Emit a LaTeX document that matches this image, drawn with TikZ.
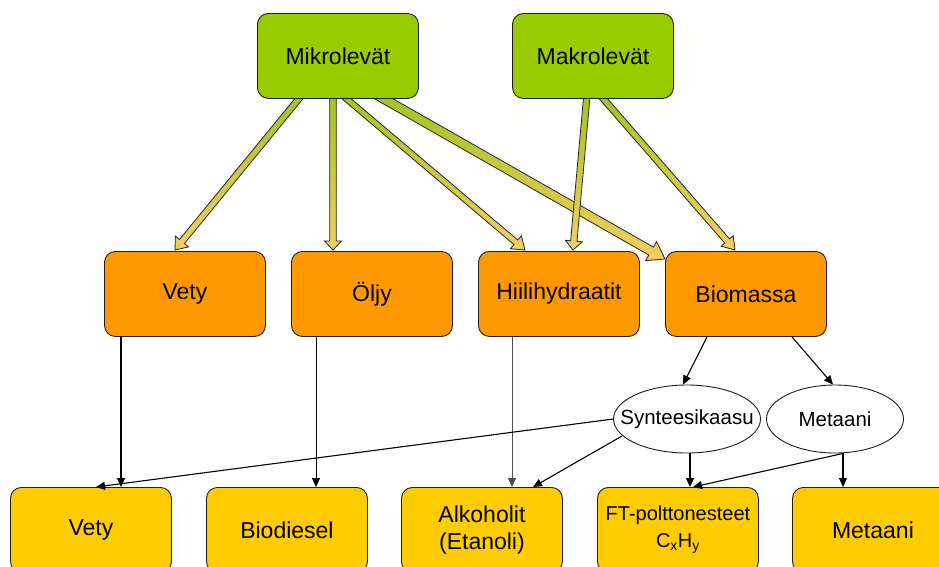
\documentclass[tikz,border=0pt]{standalone}
\usepackage{fontspec}
\setmainfont{Liberation Sans}
\usetikzlibrary{calc,shapes.geometric,arrows.meta,backgrounds}
\definecolor{grn}{RGB}{153,204,0}
\definecolor{org}{RGB}{255,153,0}
\definecolor{ylw}{RGB}{255,204,0}
\definecolor{arrtop}{RGB}{160,196,36}
\definecolor{arrbot}{RGB}{243,206,98}
\definecolor{edge}{RGB}{30,30,30}
\tikzset{
 box/.style={draw=edge, line width=0.9pt, rounded corners=11pt, minimum width=161pt, minimum height=85pt, anchor=north west, inner sep=0pt, align=center, font=\fontsize{23}{27}\selectfont},
 topbox/.style={box, fill=grn},
 midbox/.style={box, fill=org},
 botbox/.style={box, fill=ylw},
 gas/.style={draw=edge, line width=0.9pt, ellipse, fill=white, inner sep=0pt, minimum height=68pt, font=\fontsize{20.5}{24}\selectfont},
 thinarr/.style={draw=black, line width=1.1pt, -{Triangle[length=9pt,width=8pt]}},
 blk/.style={draw=black!85, line width=0.8pt, top color=arrtop, bottom color=arrbot, line join=miter},
}
\newcommand{\blkarrow}[5]{%
 \coordinate (ba-s) at #1;
 \coordinate (ba-e) at #2;
 \coordinate (ba-b) at ($(ba-e)!#5!(ba-s)$);
 \path[blk] ($(ba-s)!#3!90:(ba-e)$) -- ($(ba-b)!#3!90:(ba-e)$) -- ($(ba-b)!#4!90:(ba-e)$) -- (ba-e) -- ($(ba-b)!#4!-90:(ba-e)$) -- ($(ba-b)!#3!-90:(ba-e)$) -- ($(ba-s)!#3!-90:(ba-e)$) -- cycle;
}
\begin{document}
\begin{tikzpicture}[x=1pt,y=-1pt]
\useasboundingbox (0,0) rectangle (939,566);
% top
\node[topbox] (mikro) at (257,13) {Mikrolevät};
\node[topbox] (makro) at (512,13) {Makrolevät};
% middle
\node[midbox] (vety) at (104,251) {Vety};
\node[midbox] (olj) at (291,251) {Öljy};
\node[midbox] (hiili) at (478,251) {Hiilihydraatit};
\node[midbox] (bio) at (665,251) {Biomassa};
% ellipses
\node[gas, minimum width=147pt] (syn) at (687,419) {\makebox[0pt]{Synteesikaasu}};
\node[gas, minimum width=137pt] (met) at (835,419) {\makebox[0pt]{Metaani}};
% bottom
\node[botbox] (vetyb) at (10,487) {Vety};
\node[botbox] (dies) at (206,487) {Biodiesel};
\node[botbox] (alko) at (401,487) {Alkoholit\\(Etanoli)};
\node[botbox, font=\fontsize{20}{27}\selectfont] (ft) at (597,487) {FT-polttonesteet\\C\textsubscript{x}H\textsubscript{y}};
\node[botbox] (metb) at (792,487) {Metaani};
% block arrows
\begin{pgfonlayer}{background}
\blkarrow{($(mikro.south west)+(45,-4)$)}{($(vety.north west)+(71,-1)$)}{3.2pt}{8.5pt}{11pt}
\blkarrow{($(mikro.south west)+(76,-4)$)}{($(olj.north west)+(42,-1)$)}{3.3pt}{8.5pt}{9pt}
\blkarrow{($(mikro.south west)+(85,-4)$)}{($(hiili.north west)+(47,-1)$)}{3pt}{8.5pt}{12pt}
\blkarrow{($(mikro.south west)+(120,-4)$)}{($(bio.north west)+(0,8)$)}{4.6pt}{11pt}{16pt}
\blkarrow{($(makro.south west)+(75,-4)$)}{($(hiili.north west)+(95,-1)$)}{3.2pt}{8.5pt}{9pt}
\blkarrow{($(makro.south west)+(88,-4)$)}{($(bio.north west)+(70,-1)$)}{3.2pt}{8pt}{12pt}
\end{pgfonlayer}
% thin arrows
\draw[thinarr] ($(vety.south west)+(17,0)$) -- ($(vetyb.north west)+(111,0)$);
\draw[thinarr, line width=0.8pt] ($(olj.south west)+(25,0)$) -- ($(dies.north west)+(110,0)$);
\draw[thinarr, draw=black!70, line width=1pt] ($(hiili.south west)+(34,0)$) -- ($(alko.north west)+(111,0)$);
\draw[thinarr] ($(bio.south west)+(42,0)$) -- ($(syn.north)+(-4,0)$);
\draw[thinarr] ($(bio.south west)+(127,0)$) -- ($(met.north)+(-2,0)$);
\draw[thinarr] (syn.west) -- ($(vetyb.north west)+(86,0)$);
\draw[thinarr] ($(syn.center)+(-65,17)$) -- ($(alko.north west)+(132,0)$);
\draw[thinarr] ($(syn.south)+(3,0)$) -- ($(ft.north west)+(93,0)$);
\draw[thinarr] ($(met.south)+(8,0)$) -- ($(ft.north west)+(96,0)$);
\draw[thinarr] ($(met.south)+(8,0)$) -- ($(metb.north west)+(51,0)$);
\end{tikzpicture}
\end{document}
